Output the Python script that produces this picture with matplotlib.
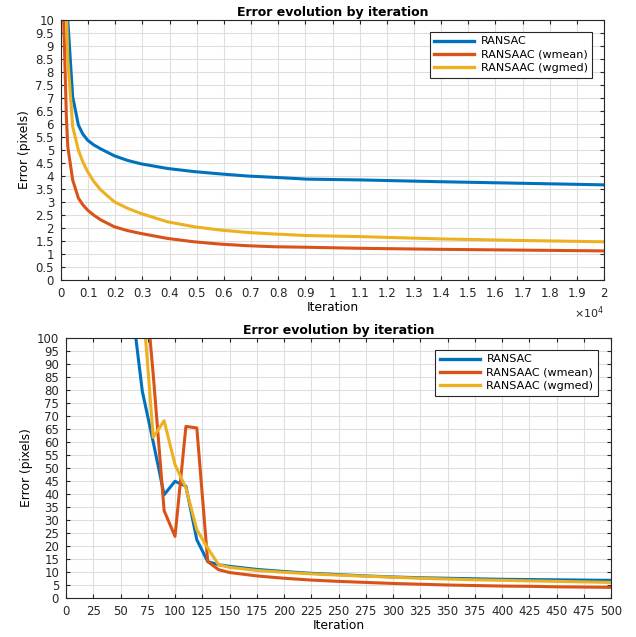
import numpy as np
import matplotlib
matplotlib.use("Agg")
import matplotlib.pyplot as plt
from matplotlib.ticker import FuncFormatter

plt.rcParams['font.family'] = ['DejaVu Sans']

# Long run (top panel), iterations
iters_long = [0, 100, 200, 250, 430, 640, 800, 980, 1200, 1470, 1960, 2450, 2940, 3920,
              4900, 5880, 6860, 7840, 9070, 11000, 14000, 17000, 20000]
ransac_long = [40.0, 25.0, 14.0, 10.0, 7.05, 5.96, 5.62, 5.38, 5.2, 5.04, 4.78, 4.6, 4.47,
               4.29, 4.17, 4.08, 4.00, 3.95, 3.88, 3.85, 3.78, 3.72, 3.66]
wmean_long = [40.0, 10.0, 6.2, 5.13, 3.85, 3.15, 2.9, 2.69, 2.5, 2.31, 2.05, 1.9, 1.79, 1.60,
              1.47, 1.38, 1.32, 1.28, 1.26, 1.22, 1.18, 1.15, 1.12]
wgmed_long = [40.0, 20.0, 10.5, 8.5, 5.9, 5.0, 4.55, 4.17, 3.8, 3.46, 3.01, 2.76, 2.56, 2.24,
              2.05, 1.92, 1.83, 1.77, 1.71, 1.67, 1.58, 1.52, 1.47]

# Short run (bottom panel)
iters_short = [50, 60, 70, 80, 90, 100, 110, 120, 130, 140, 150, 175, 200, 225,
               250, 275, 300, 325, 350, 375, 400, 425, 450, 475, 500]
ransac_short = [160, 114, 79.5, 60, 39.7, 44.9, 43, 22.4, 14, 12.8, 12.2, 11.0, 10.2, 9.5,
                9.0, 8.5, 8.1, 7.8, 7.6, 7.4, 7.2, 7.1, 7.0, 6.9, 6.8]
wmean_short = [250, 200, 133, 86, 33.6, 23.7, 66, 65.4, 14, 10.9, 9.8, 8.5, 7.6, 6.9,
               6.4, 6.0, 5.6, 5.3, 5.0, 4.8, 4.6, 4.5, 4.3, 4.2, 4.1]
wgmed_short = [200, 160, 116, 61.8, 68.2, 51.3, 42.3, 26.3, 19.2, 12.8, 11.8, 10.6, 9.9, 9.3,
               8.8, 8.4, 8.0, 7.6, 7.3, 7.0, 6.8, 6.6, 6.4, 6.2, 6.0]

labels = ["RANSAC", "RANSAAC (wmean)", "RANSAAC (wgmed)"]
colors = ["#0072BD", "#D95319", "#EDB120"]


def style_axes(ax):
    ax.grid(True, color="#dedede", linewidth=0.8)
    ax.set_axisbelow(True)
    ax.tick_params(direction="in", top=True, right=True, labelsize=8.5,
                   length=3, colors="#262626", pad=5)
    for s in ax.spines.values():
        s.set_color("#262626")
        s.set_linewidth(0.8)


def add_legend(ax, anchor):
    leg = ax.legend(loc="upper right", bbox_to_anchor=anchor, fontsize=8,
                    fancybox=False, edgecolor="#262626", framealpha=1,
                    handlelength=3.6, borderpad=0.4, labelspacing=0.3,
                    handletextpad=0.6, borderaxespad=0)
    for line in leg.get_lines():
        line.set_linewidth(2.4)
    leg.get_frame().set_linewidth(0.8)


fig = plt.figure(figsize=(6.36, 6.37), dpi=100)

# Top panel
ax1 = fig.add_axes([0.0959, 0.5604, 0.8538, 0.4082])
for y, lab, c in zip([ransac_long, wmean_long, wgmed_long], labels, colors):
    ax1.plot(iters_long, y, color=c, linewidth=2.2, label=lab)
ax1.set_xlim(0, 20000)
ax1.set_ylim(0, 10)
ax1.set_xticks(np.arange(0, 20001, 1000))
ax1.set_yticks(np.arange(0, 10.01, 0.5))
ax1.xaxis.set_major_formatter(FuncFormatter(lambda v, p: f"{v / 1e4:g}"))
ax1.yaxis.set_major_formatter(FuncFormatter(lambda v, p: f"{v:g}"))
style_axes(ax1)
ax1.set_xlabel("Iteration", fontsize=8.8, labelpad=1)
ax1.set_ylabel("Error (pixels)", fontsize=8.8, labelpad=3)
ax1.set_title("Error evolution by iteration", fontsize=9, fontweight="bold", pad=3)
ax1.text(1.0, -0.095, r"$\times$10$^4$", transform=ax1.transAxes, ha="right",
         va="top", fontsize=8, color="#262626")
add_legend(ax1, (0.978, 0.954))

# Bottom panel
ax2 = fig.add_axes([0.1038, 0.0612, 0.8569, 0.4082])
for y, lab, c in zip([ransac_short, wmean_short, wgmed_short], labels, colors):
    ax2.plot(iters_short, y, color=c, linewidth=2.2, label=lab)
ax2.set_xlim(0, 500)
ax2.set_ylim(0, 100)
ax2.set_xticks(np.arange(0, 501, 25))
ax2.set_yticks(np.arange(0, 101, 5))
style_axes(ax2)
ax2.set_xlabel("Iteration", fontsize=8.8, labelpad=1)
ax2.set_ylabel("Error (pixels)", fontsize=8.8, labelpad=3)
ax2.set_title("Error evolution by iteration", fontsize=9, fontweight="bold", pad=3)
add_legend(ax2, (0.976, 0.954))

fig.savefig("out.png", dpi=100)
